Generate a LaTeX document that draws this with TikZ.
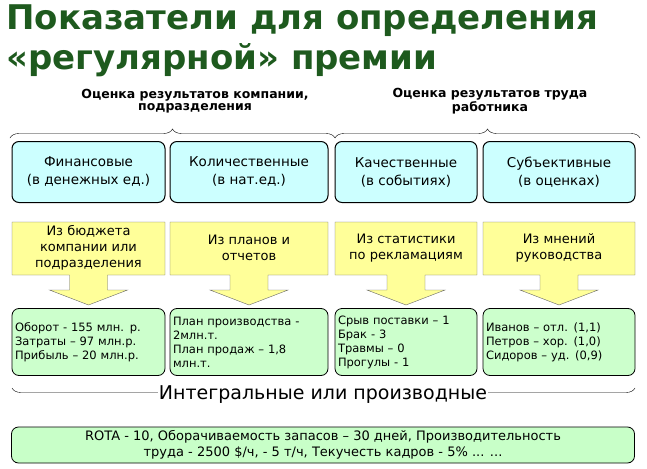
\documentclass[tikz,border=0pt]{standalone}
\usepackage{fontspec}
\setmainfont{DejaVu Sans}
\usetikzlibrary{positioning,decorations.pathreplacing}
\definecolor{titlegreen}{HTML}{1E5A1E}
\definecolor{kindfill}{HTML}{CCFFFF}
\definecolor{srcfill}{HTML}{FFFF99}
\definecolor{datafill}{HTML}{CCFFCC}
\begin{document}
\begin{tikzpicture}[x=1pt,y=-1pt]
	\tikzset{Kind/.style = {draw, line width=1pt, rounded corners=7pt, fill=kindfill, minimum height=61pt, align=center, font=\fontsize{13.5}{18}\selectfont, inner sep=1pt},
		Src/.style = {align=center, font=\fontsize{13}{16}\selectfont},
		Data/.style = {draw, line width=0.8pt, rounded corners=7pt, fill=datafill, minimum height=67pt, font=\fontsize{11.5}{14}\selectfont, inner sep=2pt},
		Head/.style = {align=center, font=\bfseries\fontsize{12.5}{12}\selectfont},
		Brace/.style = {decorate, decoration={brace, amplitude=9pt}, thin}}
	\useasboundingbox (0,0) rectangle (647,468);

	\node (title) [anchor=north west, text=titlegreen, align=left, inner sep=0pt,
		font=\bfseries\fontsize{34}{40}\selectfont] at (6,5) {Показатели для определения\\«регулярной» премии};

	\node (hcomp) [Head] at (195,101) {Оценка результатов компании,\\подразделения};
	\node (hwork) [Head] at (490,101) {Оценка результатов труда\\работника};
	\draw [Brace] (10,138) -- (335,138);
	\draw [Brace] (335,138) -- (640,138);

	% kinds, sources and data in four columns
	\foreach \n/\xa/\xb/\kind/\src/\dat in {
		1/12/165/{Финансовые\\(в денежных ед.)}/{Из бюджета\\компании или\\подразделения}/{Оборот - 155 млн. р.\\Затраты – 97 млн.р.\\Прибыль – 20 млн.р.},
		2/170/328/{Количественные\\(в нат.ед.)}/{Из планов и\\отчетов}/{План производства -\\2млн.т.\\План продаж – 1,8\\млн.т.},
		3/335/477/{Качественные\\(в событиях)}/{Из статистики\\по рекламациям}/{Срыв поставки – 1\\Брак - 3\\Травмы – 0\\Прогулы - 1},
		4/483/635/{Субъективные\\(в оценках)}/{Из мнений\\руководства}/{Иванов – отл. (1,1)\\Петров – хор. (1,0)\\Сидоров – уд. (0,9)}} {
		\pgfmathsetmacro{\w}{\xb-\xa}
		\pgfmathsetmacro{\m}{(\xa+\xb)/2}
		\node (k\n) [Kind, minimum width=\w pt] at (\m,172) {\kind};
		\fill [srcfill, draw=black!60] (\xa,222) -- (\xb,222) -- (\xb,275) -- (\m+19,275) -- (\m+19,290)
			-- (\m+39,290) -- (\m,305) -- (\m-39,290) -- (\m-19,290) -- (\m-19,275) -- (\xa,275) -- cycle;
		\node (s\n) [Src] at (\m,248) {\src};
		\node (d\n) [Data, minimum width=\w pt, text width=\w pt-6pt, align=left] at (\m,342) {\dat};
	}

	\draw [Brace] (635,388) -- (12,388);
	\node (integ) [font=\fontsize{19}{19}\selectfont, fill=white, inner sep=1pt] at (323,395) {Интегральные или производные};

	\node (total) [Data, minimum height=36pt, minimum width=623pt, align=center, fill=datafill!80!green!60,
		font=\fontsize{13}{16}\selectfont] at (323,445)
		{ROTA - 10, Оборачиваемость запасов – 30 дней, Производительность\\труда - 2500 \$/ч, - 5 т/ч, Текучесть кадров - 5\% ... ...};
\end{tikzpicture}
\end{document}
